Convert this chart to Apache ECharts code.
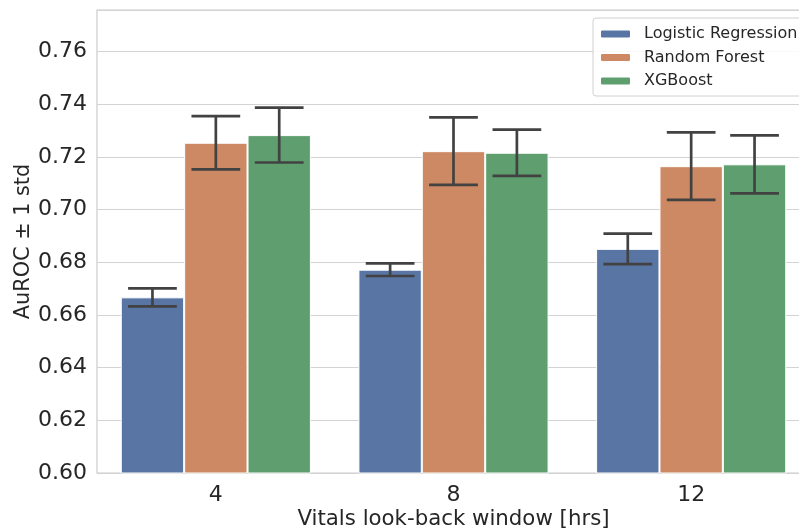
<!DOCTYPE html>
<html>
<head>
<meta charset="utf-8">
<script src="https://cdn.jsdelivr.net/npm/echarts@6/dist/echarts.min.js"></script>
<style>
html,body{margin:0;padding:0;background:#fff;overflow:hidden;}
#wrap{width:799px;height:531px;overflow:hidden;position:relative;}
#chart{position:absolute;left:0;top:0;width:812px;height:531px;}
</style>
</head>
<body>
<div id="wrap"><div id="chart"></div></div>
<script>
var categories = ['4', '8', '12'];
var modelNames = ['Logistic Regression', 'Random Forest', 'XGBoost'];
var lrMean = [0.6667, 0.6772, 0.6851];
var lrStd = [0.0034, 0.0024, 0.0058];
var rfMean = [0.7254, 0.7222, 0.7165];
var rfStd = [0.0101, 0.0128, 0.0128];
var xgbMean = [0.7283, 0.7216, 0.7172];
var xgbStd = [0.0104, 0.0088, 0.0110];
var yTicks = [0.60, 0.62, 0.64, 0.66, 0.68, 0.70, 0.72, 0.74, 0.76];

var colors = ['#5875a4', '#cc8963', '#5f9e6e'];
var means = [lrMean, rfMean, xgbMean];
var stds = [lrStd, rfStd, xgbStd];
var font = 'DejaVu Sans';
var textColor = '#262626';

var chart = echarts.init(document.getElementById('chart'), null, {renderer: 'canvas', width: 812, height: 531});

var series = [];
modelNames.forEach(function (name, i) {
  series.push({
    name: name,
    type: 'bar',
    data: means[i],
    barGap: '0%',
    barCategoryGap: '20%',
    itemStyle: {color: colors[i], borderColor: '#ffffff', borderWidth: 1},
    emphasis: {disabled: true},
    z: 2
  });
});

var errData = [];
modelNames.forEach(function (name, i) {
  categories.forEach(function (c, j) {
    errData.push([j, means[i][j] - stds[i][j], means[i][j] + stds[i][j], i]);
  });
});

series.push({
  type: 'custom',
  name: 'err',
  data: errData,
  z: 5,
  silent: true,
  renderItem: function (params, api) {
    var cat = api.value(0);
    var lo = api.value(1);
    var hi = api.value(2);
    var k = api.value(3);
    var band = api.size([1, 0])[0];
    var barW = band * 0.8 / 3;
    var cx = api.coord([cat, lo])[0] + (k - 1) * barW;
    var yLo = api.coord([cat, lo])[1];
    var yHi = api.coord([cat, hi])[1];
    var cap = band * 0.205 / 2;
    var style = {stroke: '#424242', lineWidth: 2.7, fill: null};
    return {
      type: 'group',
      children: [
        {type: 'line', shape: {x1: cx, y1: yLo, x2: cx, y2: yHi}, style: style},
        {type: 'line', shape: {x1: cx - cap, y1: yLo, x2: cx + cap, y2: yLo}, style: style},
        {type: 'line', shape: {x1: cx - cap, y1: yHi, x2: cx + cap, y2: yHi}, style: style}
      ]
    };
  }
});

var option = {
  backgroundColor: '#ffffff',
  animation: false,
  textStyle: {fontFamily: font, color: textColor},
  grid: {
    left: 97, top: 10, width: 713, height: 463,
    outerBoundsMode: 'none',
    containLabel: false,
    show: true, borderColor: '#cccccc', borderWidth: 1.2, backgroundColor: 'transparent'
  },
  legend: {
    data: modelNames,
    orient: 'vertical',
    left: 593, top: 18,
    padding: [8, 10, 7, 6],
    itemGap: 7.5,
    itemWidth: 31, itemHeight: 9,
    backgroundColor: 'rgba(255,255,255,0.85)',
    borderColor: '#d0d0d0', borderWidth: 1, borderRadius: 3,
    textStyle: {fontFamily: font, fontSize: 16, color: textColor, lineHeight: 16, padding: [0, 0, 0, 8]},
    selectedMode: false
  },
  xAxis: {
    type: 'category',
    data: categories,
    name: 'Vitals look-back window [hrs]',
    nameLocation: 'middle',
    nameGap: 36,
    nameMoveOverlap: false,
    nameTextStyle: {fontFamily: font, fontSize: 21.3, color: textColor},
    axisLine: {show: false},
    axisTick: {show: false},
    axisLabel: {fontFamily: font, fontSize: 22, color: textColor, margin: 11},
    splitLine: {show: false}
  },
  yAxis: {
    type: 'value',
    min: 0.6, max: 0.7758, interval: 0.02,
    name: 'AuROC ± 1 std',
    nameLocation: 'middle',
    nameGap: 63,
    nameMoveOverlap: false,
    nameTextStyle: {fontFamily: font, fontSize: 20.8, color: textColor},
    axisLine: {show: false},
    axisTick: {show: false},
    axisLabel: {
      fontFamily: font, fontSize: 22, color: textColor, margin: 10,
      showMaxLabel: false,
      formatter: function (v) {
        for (var i = 0; i < yTicks.length; i++) {
          if (Math.abs(yTicks[i] - v) < 1e-6) return yTicks[i].toFixed(2);
        }
        return '';
      }
    },
    splitLine: {show: true, lineStyle: {color: '#d3d3d3', width: 1.2}}
  },
  series: series
};

chart.setOption(option);
</script>
</body>
</html>
